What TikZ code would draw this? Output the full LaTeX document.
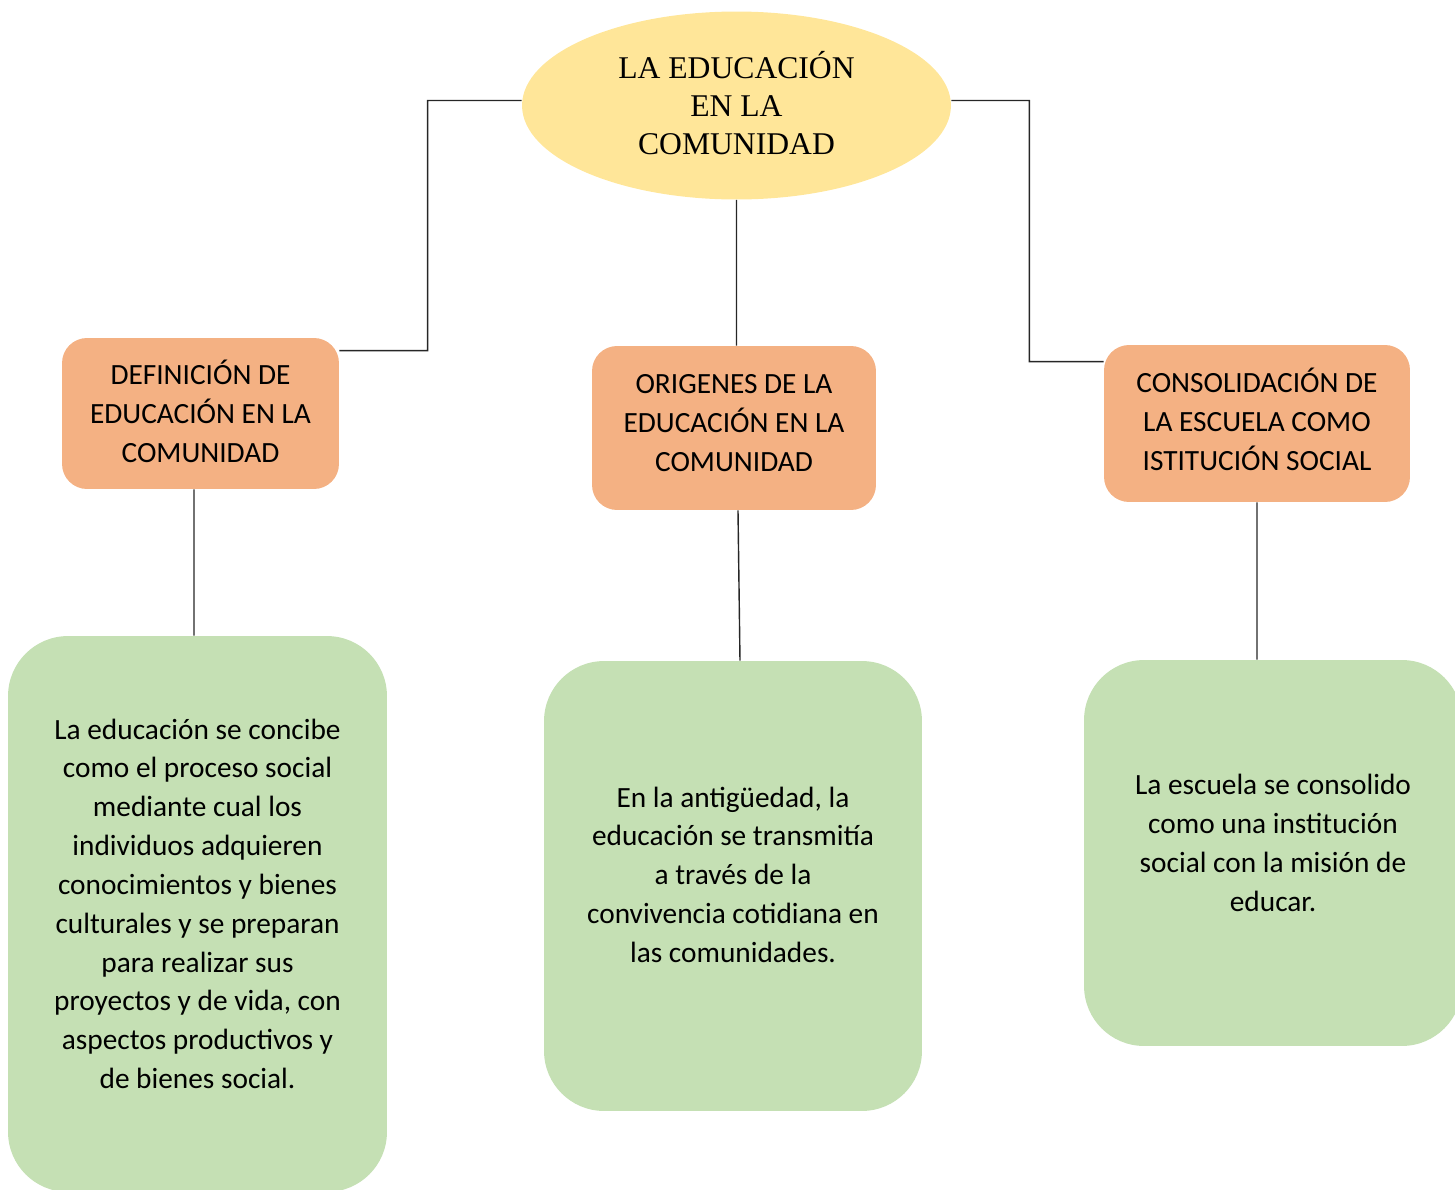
\documentclass[tikz,border=0pt]{standalone}
\usepackage{fontspec}
\setmainfont{Carlito}
\newfontfamily\titlefont{Liberation Serif}
\usepackage{tikz}
\usetikzlibrary{shapes.geometric,positioning}
\definecolor{tema}{HTML}{FFE699}
\definecolor{rubro}{HTML}{F4B183}
\definecolor{detalle}{HTML}{C5E0B4}
% lift the text lines a little inside their box
\newcommand{\alza}[2][0.2cm]{\raisebox{#1}[\height][\depth]{\begin{tabular}{@{}c@{}}#2\end{tabular}}}
\tikzset{
    %Define style for the main ellipse
    tema/.style={
           ellipse,
           fill=tema,
           inner sep=0pt,
           minimum width=8.58cm,
           minimum height=3.76cm,
           font=\titlefont\fontsize{18}{21.8}\selectfont,
           align=center},
    %Define style for the orange boxes
    rubro/.style={
           rectangle,
           rounded corners=0.5cm,
           fill=rubro,
           inner sep=0pt,
           font=\fontsize{16.7}{22.1}\selectfont,
           align=center},
    %Define style for the green boxes
    detalle/.style={
           rectangle,
           rounded corners=1.2cm,
           fill=detalle,
           inner sep=0pt,
           font=\fontsize{16.7}{22.1}\selectfont,
           align=center},
    % Define line style
    lin/.style={
           draw=black!85,
           line width=0.8pt}
}
\begin{document}
\begin{tikzpicture}[x=0.02cm,y=-0.02cm]
\useasboundingbox (0,0) rectangle (1455,1190);
\node[tema](1) at (736.5,105.5){\alza[-0.06cm]{LA EDUCACIÓN\\EN LA\\COMUNIDAD}};
\node[rubro, minimum width=5.54cm, minimum height=3.02cm](2) at (200.5,413.5)
    {\alza[-0.05cm]{DEFINICIÓN DE\\EDUCACIÓN EN LA\\COMUNIDAD}};
\node[rubro, minimum width=5.68cm, minimum height=3.28cm](3) at (734,428)
    {\alza[0.06cm]{ORIGENES DE LA\\EDUCACIÓN EN LA\\COMUNIDAD}};
\node[rubro, minimum width=6.12cm, minimum height=3.14cm](4) at (1257,423.5)
    {\alza[0cm]{CONSOLIDACIÓN DE\\LA ESCUELA COMO\\ISTITUCIÓN SOCIAL}};
\node[detalle, minimum width=7.58cm, minimum height=11.12cm](5) at (197.5,914)
    {\alza[0.16cm]{La educación se concibe\\como el proceso social\\mediante cual los\\individuos adquieren\\conocimientos y bienes\\culturales y se preparan\\para realizar sus\\proyectos y de vida, con\\aspectos productivos y\\de bienes social.}};
\node[detalle, minimum width=7.56cm, minimum height=9cm](6) at (733,886)
    {\alza[0.18cm]{En la antigüedad, la\\educación se transmitía\\a través de la\\convivencia cotidiana en\\las comunidades.}};
\node[detalle, minimum width=7.56cm, minimum height=7.72cm](7) at (1273,853)
    {\alza[0.16cm]{La escuela se consolido\\como una institución\\social con la misión de\\educar.}};
 \path[lin]
    ([yshift=0.1cm]1.west) -- ++(-94,0) |- ([yshift=-0.26cm]2.north east)
    ([yshift=0.1cm]1.east) -- ++(78,0) |- ([yshift=-0.34cm]4.north west)
    (1.south) -- (1.south |- 3.north)
    ([xshift=-0.13cm]2.south) -- ([xshift=-0.13cm]2.south |- 5.north)
    ([xshift=0.08cm]3.south) -- ([xshift=0.14cm]6.north)
    (4.south) -- (4.south |- 7.north);
\end{tikzpicture}
\end{document}
